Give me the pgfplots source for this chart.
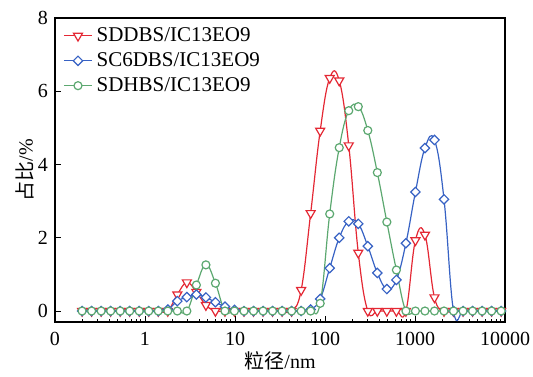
\documentclass[border=0pt]{standalone}
\usepackage{fontspec}
\setmainfont{Liberation Serif}
\newfontfamily\cjk{Noto Sans CJK SC}
\usepackage{pgfplots}
\usepackage{pgfplotstable}
\pgfplotsset{compat=1.18}
\definecolor{cred}{RGB}{228,40,52}
\definecolor{cblue}{RGB}{55,98,196}
\definecolor{cgreen}{RGB}{92,168,112}
\pgfplotstableread{
x r b g
0.2 0 0 0
0.2552 0 0 0
0.3256 0 0 0
0.4154 0 0 0
0.5300 0 0 0
0.6763 0 0 0
0.8629 0 0 0
1.1009 0 0 0
1.4047 0 0 0
1.7923 0 0.04 0
2.2868 0.45 0.27 0
2.9178 0.78 0.38 0
3.7228 0.52 0.45 0.71
4.7500 0.16 0.37 1.26
6.0606 0 0.24 0.76
7.7328 0 0.12 0
9.8663 0 0.03 0
12.588 0 0 0
16.062 0 0 0
20.493 0 0 0
26.147 0 0 0
33.362 0 0 0
42.567 0 0 0
54.312 0.57 0 0
69.297 2.67 0.04 0
88.417 4.92 0.33 0.21
112.81 6.36 1.17 2.65
143.94 6.29 2.00 4.46
183.66 4.52 2.45 5.47
234.33 1.59 2.38 5.58
298.98 0 1.77 4.93
381.47 0 1.04 3.78
486.73 0 0.60 2.43
621.03 0 0.85 1.12
792.38 0 1.85 0
1011.0 1.93 3.25 0
1289.9 2.08 4.45 0
1645.8 0.37 4.67 0
2099.9 0 3.05 0
2679.3 0 0 0
3418.6 0 0 0
4361.8 0 0 0
5565.3 0 0 0
7100.8 0 0 0
9060.0 0 0 0
}\datatable
\begin{document}
\begin{tikzpicture}
\useasboundingbox (-27.5pt,-27pt) rectangle (239pt,161pt);
\begin{axis}[
  at={(0,0)}, anchor=south west,
  scale only axis, width=225pt, height=152pt,
  xmode=log, xmin=0.1, xmax=10000,
  ymin=-0.3, ymax=8,
  xtick={0.1,1,10,100,1000,10000},
  xticklabels={0,1,10,100,1000,10000},
  ytick={0,2,4,6,8},
  tick align=inside, xtick pos=bottom, ytick pos=left,
  major tick length=3pt, minor tick length=1.6pt,
  tick style={black, line width=0.5pt},
  axis line style={line width=0.6pt},
  ticklabel style={font=\fontsize{10}{12}\selectfont},
  xticklabel shift=1.5pt,
  /pgf/number format/assume math mode=true,
  xlabel={{\cjk 粒径}/nm}, ylabel={{\cjk 占比}/\%},
  ylabel shift=-5pt, xlabel shift=-4pt,
  label style={font=\fontsize{10}{12}\selectfont},
  legend style={draw=none, fill=none, at={(axis description cs:0,1)}, anchor=north west,
    xshift=3pt, yshift=-1.5pt, font=\fontsize{10.5}{11}\selectfont, row sep=0pt, inner sep=1pt},
  legend cell align=left,
  legend image code/.code={\draw[mark repeat=2, mark phase=2] plot coordinates {(0pt,0pt) (7pt,0pt) (14pt,0pt)};},
]
\addplot[cred, line width=0.6pt, smooth, tension=0.7, mark=triangle*, mark size=2.6pt,
  mark options={rotate=180, fill=white, solid, line width=0.6pt}] table[x=x, y=r] {\datatable};
\addlegendentry{SDDBS/IC13EO9}
\addplot[cblue, line width=0.6pt, smooth, tension=0.7, mark=square*, mark size=1.65pt,
  mark options={rotate=45, fill=white, solid, line width=0.6pt}] table[x=x, y=b] {\datatable};
\addlegendentry{SC6DBS/IC13EO9}
\addplot[cgreen, line width=0.6pt, smooth, tension=0.7, mark=*, mark size=2pt,
  mark options={fill=white, solid, line width=0.6pt}] table[x=x, y=g] {\datatable};
\addlegendentry{SDHBS/IC13EO9}
\end{axis}
\end{tikzpicture}
\end{document}
